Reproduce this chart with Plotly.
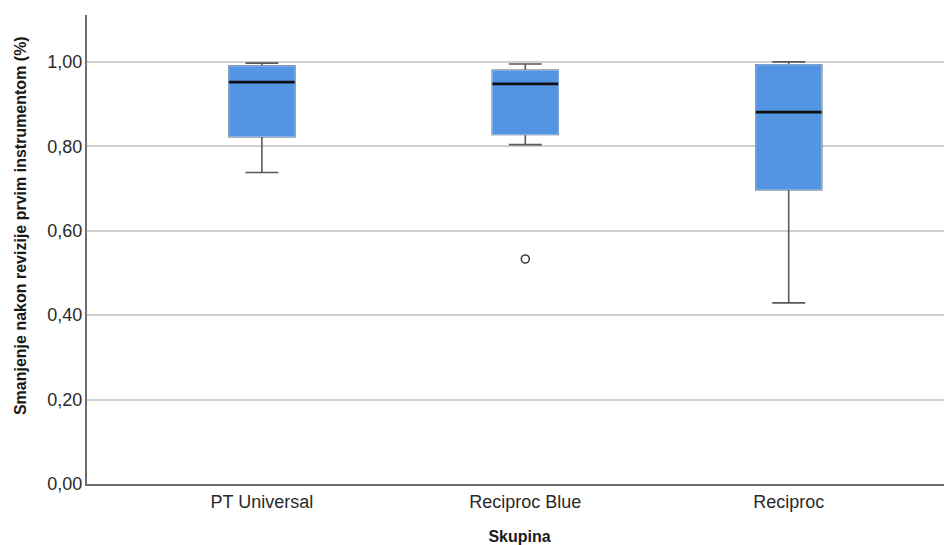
import plotly.graph_objects as go

categories = ["PT Universal", "Reciproc Blue", "Reciproc"]
lower_whisker = [0.738, 0.804, 0.429]
q1 = [0.823, 0.828, 0.697]
median = [0.952, 0.948, 0.881]
q3 = [0.990, 0.980, 0.993]
upper_whisker = [0.997, 0.995, 1.000]
outlier_group = ["Reciproc Blue"]
outlier_value = [0.533]

BOX_W = 0.25
fig = go.Figure()

# whiskers
fig.add_trace(go.Box(
    x=categories, q1=q1, median=median, q3=q3,
    lowerfence=lower_whisker, upperfence=upper_whisker,
    width=BOX_W, whiskerwidth=0.5, boxpoints=False,
    line=dict(color="#5a5a5a", width=1.6), fillcolor="rgba(0,0,0,0)",
    hoverinfo="skip", showlegend=False))
# filled boxes
fig.add_trace(go.Box(
    x=categories, q1=q1, median=median, q3=q3,
    lowerfence=q1, upperfence=q3,
    width=BOX_W, whiskerwidth=0, boxpoints=False,
    line=dict(color="#8db8ee", width=1), fillcolor="#5495e3",
    showlegend=False))
# median lines
fig.add_trace(go.Box(
    x=categories, q1=median, median=median, q3=median,
    lowerfence=median, upperfence=median,
    width=BOX_W, whiskerwidth=0, boxpoints=False,
    line=dict(color="#111111", width=2.8), fillcolor="rgba(0,0,0,0)",
    hoverinfo="skip", showlegend=False))
# outlier
fig.add_trace(go.Scatter(
    x=outlier_group, y=outlier_value, mode="markers",
    marker=dict(symbol="circle-open", size=8, color="#444444", line=dict(width=1.6)),
    showlegend=False))

fig.update_layout(
    width=944, height=537,
    margin=dict(l=79, r=0, t=7, b=61),
    paper_bgcolor="white", plot_bgcolor="white",
    boxmode="overlay",
    separators=",.",
    font=dict(family="Liberation Sans, Arial, sans-serif", size=18, color="#2a2a2a"),
    xaxis=dict(
        type="category", range=[-0.664, 2.62],
        showgrid=False, showline=True, linecolor="#6e6e6e", linewidth=2,
        ticks="", tickfont=dict(size=18, color="#2a2a2a"),
        title=dict(text="<b>Skupina</b>", font=dict(size=16, color="#1a1a1a"), standoff=20),
    ),
    yaxis=dict(
        range=[0, 1.111], tickvals=[0, 0.2, 0.4, 0.6, 0.8, 1.0], tickformat=".2f",
        showgrid=True, gridcolor="#cfcfcf", gridwidth=1.5,
        showline=True, linecolor="#6e6e6e", linewidth=2, zeroline=False,
        ticks="", tickfont=dict(size=18, color="#2a2a2a"), ticklabelstandoff=-1,
    ),
    annotations=[dict(
        text="<b>Smanjenje nakon revizije prvim instrumentom (%)</b>",
        textangle=-90, xref="paper", yref="paper",
        x=-0.0775, y=0.552, xanchor="center", yanchor="middle",
        showarrow=False, font=dict(size=16, color="#1a1a1a"),
    )],
)

fig.write_html("out.html")
